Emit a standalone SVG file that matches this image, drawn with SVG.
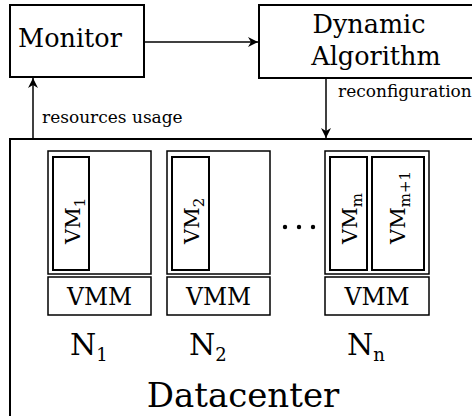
<svg xmlns="http://www.w3.org/2000/svg" width="472" height="416" viewBox="0 0 472 416">
<defs>
<marker id="ah" viewBox="0 0 10 10" refX="10" refY="5" markerWidth="10" markerHeight="10" markerUnits="userSpaceOnUse" orient="auto">
<path d="M0,0 L10,5 L0,10 L3,5 Z" fill="#000"/>
</marker>
<style>
text{font-family:"DejaVu Serif",serif;fill:#000}
.box{fill:#fff;stroke:#000;stroke-width:2}
.thin{fill:#fff;stroke:#000;stroke-width:1.5}
.conn{stroke:#000;stroke-width:1.5;fill:none}
.big{font-size:25.5px}
.lbl{font-size:17px}
.vm{font-size:21px}
.vmm{font-size:23.5px}
.n{font-size:30px}
</style>
</defs>
<rect width="472" height="416" fill="#fff"/>
<g id="datacenter">
<rect class="box" x="10" y="139" width="470" height="290"/>
<text x="243" y="407" text-anchor="middle" style="font-size:34px">Datacenter</text>
</g>
<g id="monitor">
<rect class="box" x="10" y="5" width="134" height="72"/>
<text class="big" x="70" y="47" text-anchor="middle">Monitor</text>
</g>
<g id="algorithm">
<rect class="box" x="259" y="5" width="220" height="73"/>
<text class="big" x="369" y="33" text-anchor="middle">Dynamic</text>
<text class="big" x="376" y="65" text-anchor="middle">Algorithm</text>
</g>
<g id="node1">
<rect class="thin" x="48" y="151" width="103" height="123"/>
<rect class="box" x="53" y="157" width="36" height="113"/>
<text class="vm" transform="translate(80,244) rotate(-90)">VM<tspan dy="5" font-size="15">1</tspan></text>
<rect class="thin" x="48" y="277" width="103" height="38"/>
<text class="vmm" x="99.5" y="305" text-anchor="middle">VMM</text>
<text class="n" x="70" y="355">N<tspan dy="6" font-size="18">1</tspan></text>
</g>
<g id="node2">
<rect class="thin" x="167" y="151" width="103" height="123"/>
<rect class="box" x="172" y="157" width="37" height="113"/>
<text class="vm" transform="translate(199,244) rotate(-90)">VM<tspan dy="5" font-size="15">2</tspan></text>
<rect class="thin" x="167" y="277" width="103" height="38"/>
<text class="vmm" x="218.5" y="305" text-anchor="middle">VMM</text>
<text class="n" x="189" y="355">N<tspan dy="6" font-size="18">2</tspan></text>
</g>
<g id="dots">
<circle cx="285" cy="227" r="2.2"/>
<circle cx="299" cy="227" r="2.2"/>
<circle cx="313" cy="227" r="2.2"/>
</g>
<g id="noden">
<rect class="thin" x="325" y="151" width="104" height="123"/>
<rect class="box" x="330" y="157" width="37" height="113"/>
<text class="vm" transform="translate(357,244) rotate(-90)">VM<tspan dy="5" font-size="15">m</tspan></text>
<rect class="box" x="372" y="157" width="52" height="113"/>
<text class="vm" transform="translate(405,244) rotate(-90)">VM<tspan dy="5" font-size="15">m+1</tspan></text>
<rect class="thin" x="325" y="277" width="104" height="38"/>
<text class="vmm" x="377" y="305" text-anchor="middle">VMM</text>
<text class="n" x="347" y="355">N<tspan dy="6" font-size="18">n</tspan></text>
</g>
<g id="connectors">
<line class="conn" x1="144" y1="42" x2="258" y2="42" marker-end="url(#ah)"/>
<line class="conn" x1="33" y1="138" x2="33" y2="78" marker-end="url(#ah)"/>
<line class="conn" x1="326" y1="79" x2="326" y2="138" marker-end="url(#ah)"/>
<text class="lbl" x="42" y="123">resources usage</text>
<text class="lbl" x="338" y="97">reconfiguration</text>
</g>
</svg>
